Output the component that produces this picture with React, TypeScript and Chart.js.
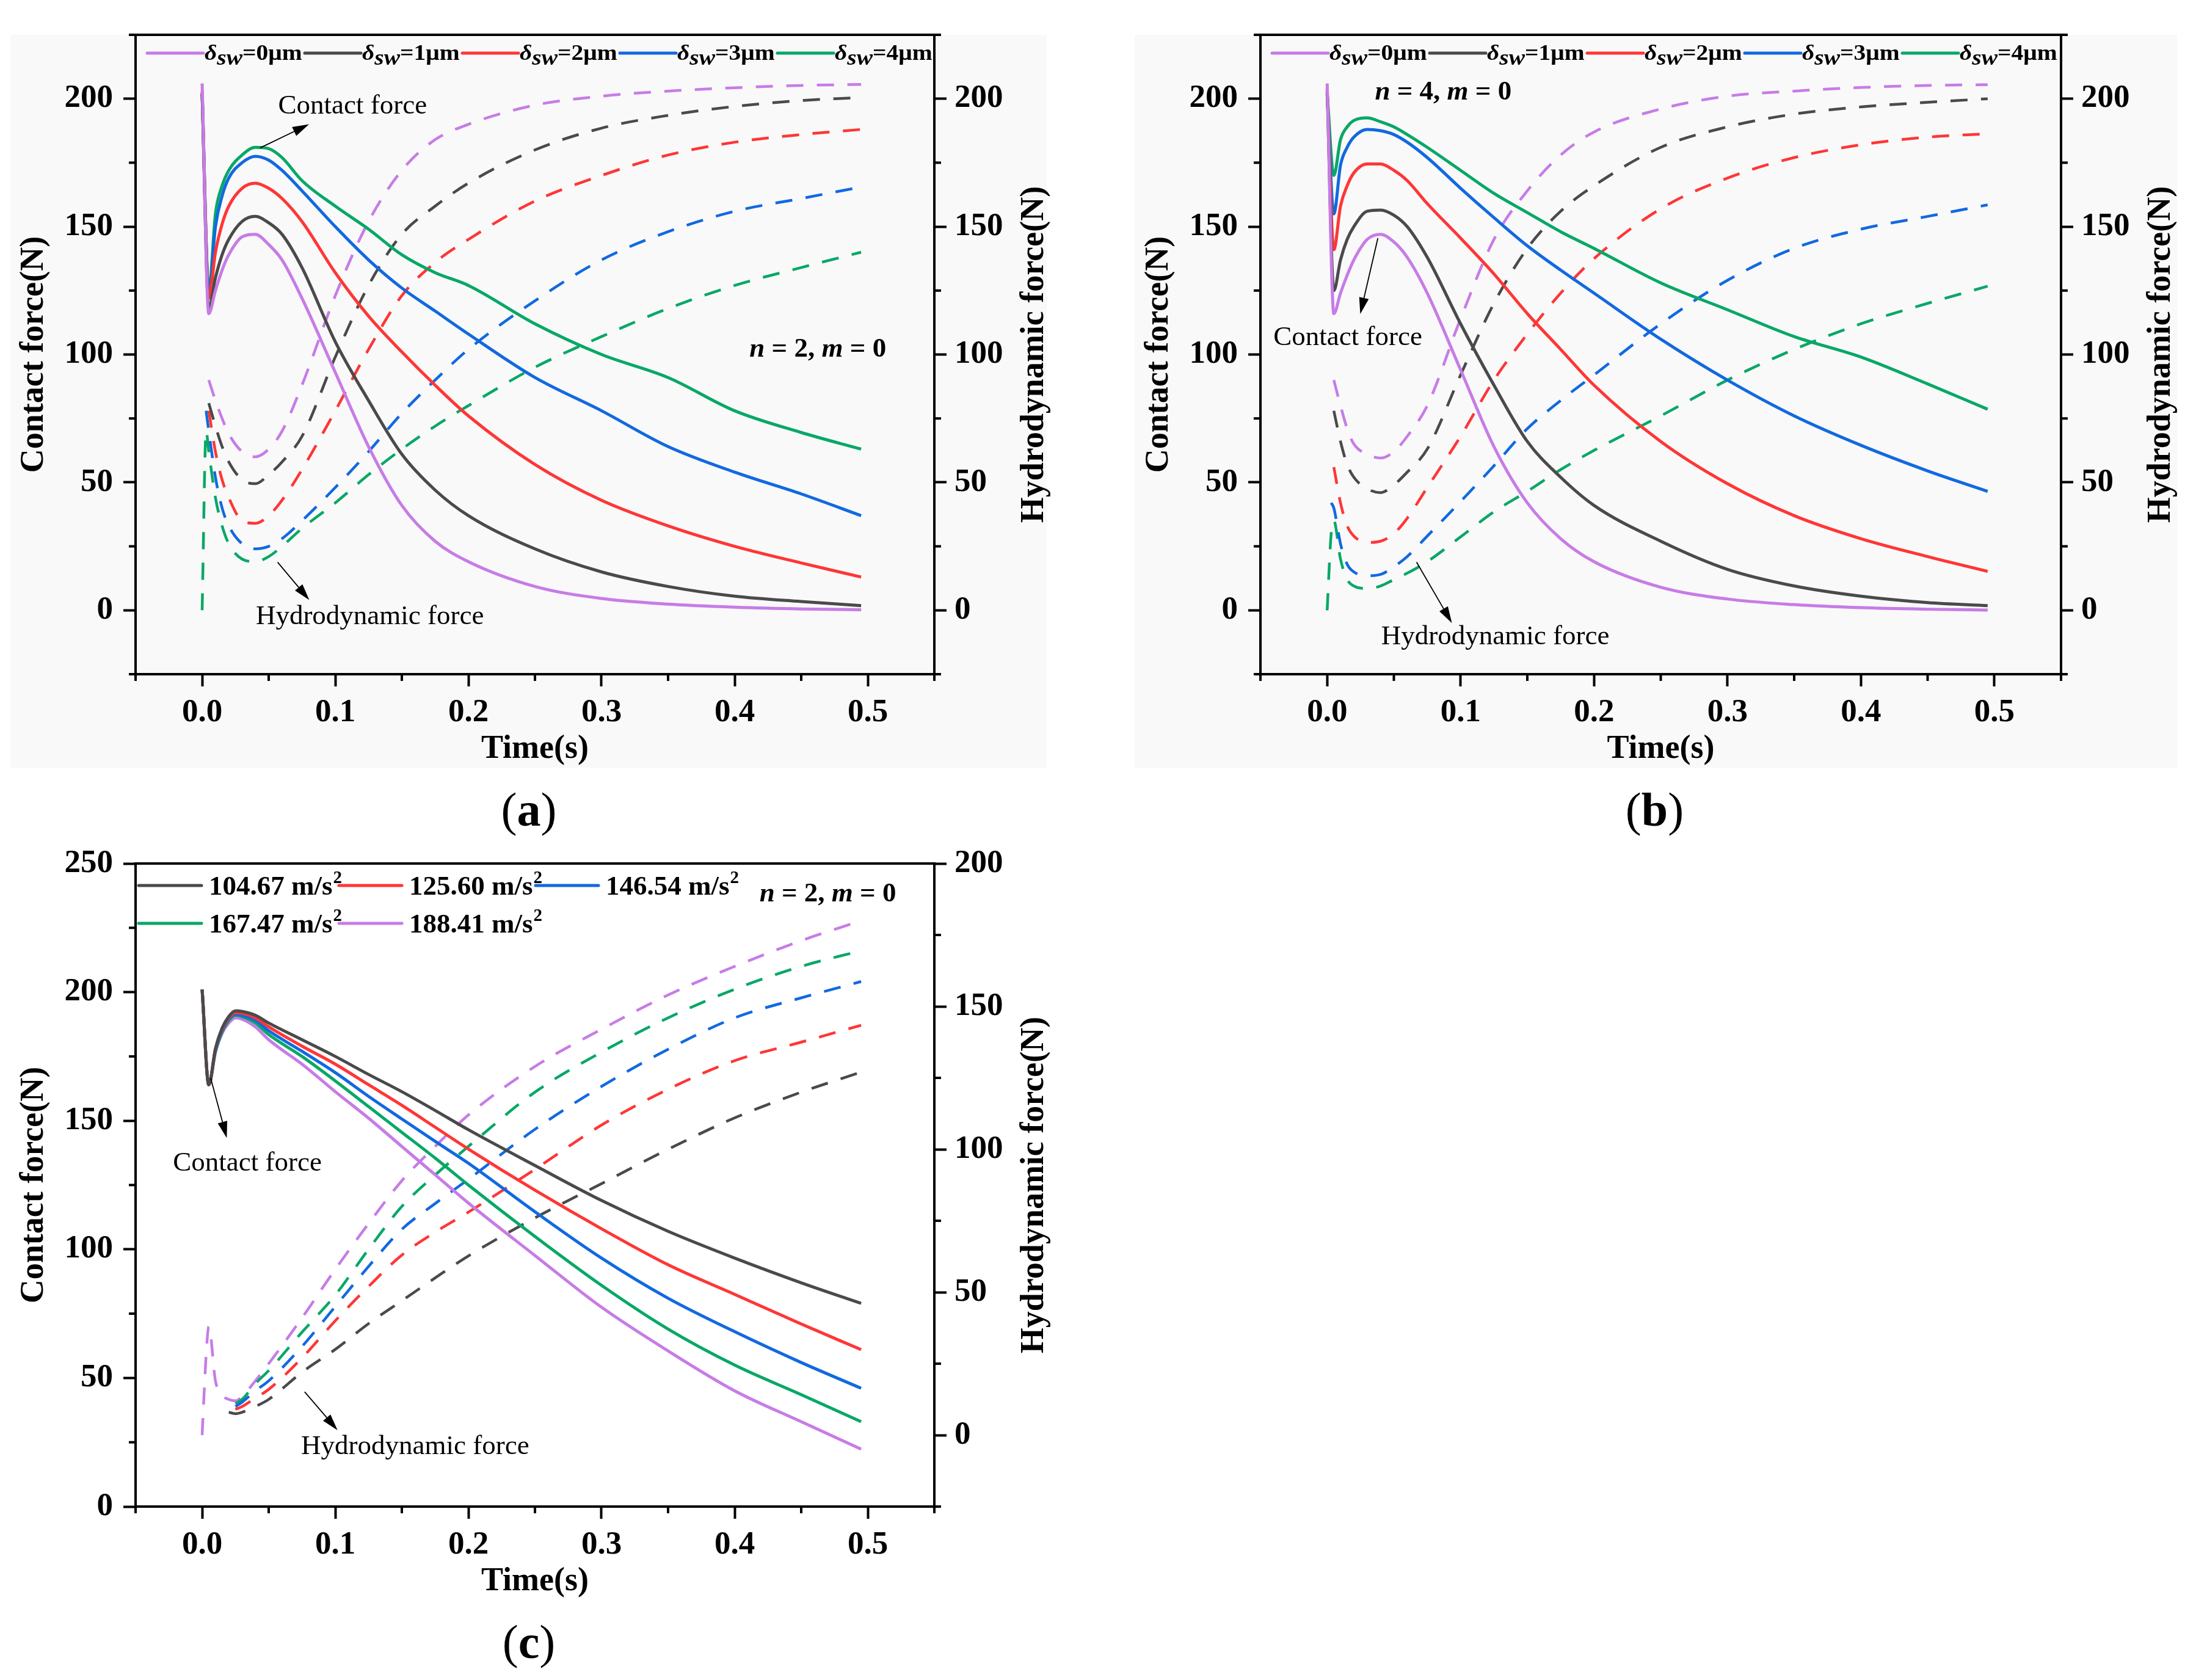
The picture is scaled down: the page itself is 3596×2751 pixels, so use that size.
import React, { useEffect, useRef } from 'react';
import { Chart, registerables } from 'chart.js';

Chart.register(...registerables);

const SERIF = '"Liberation Serif", "Times New Roman", Times, serif';

// ---------------- data ----------------
const TIME_AB = [0, 0.003, 0.005, 0.01, 0.015, 0.02, 0.03, 0.04, 0.05, 0.06, 0.075, 0.1, 0.125, 0.15, 0.175, 0.2, 0.25, 0.3, 0.35, 0.4, 0.45, 0.495];

// panel (a): n = 2, m = 0 ; series order δsw = 0,1,2,3,4 µm
const A_CONTACT_0 = [206, null, 116, 125, 133, 139, 146, 147, 143, 137, 122, 93, 64, 41, 27, 19, 9.3, 4.6, 2.4, 1.2, 0.5, 0.2];
const A_CONTACT_1 = [202, null, 118, 130, 139, 145, 152, 154, 151.5, 147, 134, 105, 82, 61, 47, 37, 24, 15, 9.3, 5.5, 3.4, 1.8];
const A_CONTACT_2 = [203, null, 122, 140, 151, 158, 165, 167, 165, 161, 152, 132, 115, 101, 88, 76, 57, 43, 33, 25, 18.5, 13];
const A_CONTACT_3 = [202, null, 124, 150, 162, 169, 175, 177.5, 176, 172, 164, 150, 137, 126, 117, 108, 91, 78, 64, 54, 45.5, 37];
const A_CONTACT_4 = [202, null, 125, 155, 166, 172, 178, 181, 180.5, 177, 168, 158, 149, 139, 132, 127, 112, 100, 91, 78, 69.5, 63];
const A_HYDRO_0 = [null, null, 90, 82, 75, 69, 62, 60, 63, 70, 88, 123, 152, 172, 184, 190, 197.5, 201, 203, 204.3, 205.2, 205.6];
const A_HYDRO_1 = [null, null, 81, 72, 64, 58, 51, 49.5, 53, 58, 68, 99, 127, 147, 158, 167, 180, 188.5, 193.5, 197, 199.3, 200.5];
const A_HYDRO_2 = [null, null, 78, 62, 51, 44, 35, 34, 37, 43, 55, 78, 102, 123, 136, 145, 160, 170, 178, 183, 186, 188];
const A_HYDRO_3 = [null, 78, 70, 52, 40, 33, 26, 24, 25, 28, 35, 48, 62, 77, 90, 102, 121, 137, 148, 156, 161, 165.5];
const A_HYDRO_4 = [0, 70, 62, 44, 33, 26, 20, 19, 21, 25, 32, 42, 53, 63, 72, 80, 95, 107, 118, 127, 134, 140];

// panel (b): n = 4, m = 0
const B_CONTACT_0 = [206, null, 116, 124, 131, 137, 145, 147, 144, 138, 124, 94, 64, 42, 28, 19, 9, 4.4, 2.2, 1, 0.4, 0.1];
const B_CONTACT_1 = [203, null, 125, 137, 145, 150, 156, 156.5, 154.5, 150, 138, 112, 88, 66, 52, 41, 27, 16, 9.5, 5.5, 3, 1.8];
const B_CONTACT_2 = [204, null, 141, 158, 166, 171, 174.5, 174.5, 172, 168, 159, 145.5, 131.5, 116, 102, 88, 66, 49.5, 37, 28, 21, 15.2];
const B_CONTACT_3 = [202, null, 155, 174, 181, 185, 188, 187.5, 186, 183, 177, 165, 153.5, 142.5, 133, 124, 106, 90, 76, 64.5, 54.5, 46.5];
const B_CONTACT_4 = [202, null, 170, 184, 189, 191.5, 192.5, 191, 189, 186, 181, 172, 163, 155.5, 148, 141.5, 128, 117.5, 107, 99, 88.5, 78.6];
const B_HYDRO_0 = [null, null, 90, 80, 71, 65, 61, 59.5, 62, 68, 80, 114, 145, 164, 178, 187, 196, 201, 203, 204.4, 205.2, 205.5];
const B_HYDRO_1 = [null, null, 78, 66, 57, 52, 47.5, 46, 49, 54, 63, 92, 120, 141.5, 156, 166, 181, 189, 194, 196.8, 198.6, 200];
const B_HYDRO_2 = [null, null, 56, 42, 33, 29, 26.5, 27, 30, 36, 48, 68, 90, 108, 124, 137.5, 157, 169, 177, 182, 185, 186.3];
const B_HYDRO_3 = [null, 42, 40, 26, 18, 15, 13.5, 14, 17, 21, 29, 42.5, 56.5, 71, 82, 92, 112, 129, 141.5, 149, 154, 158.5];
const B_HYDRO_4 = [0, 30, 35, 20, 12, 9.5, 8.5, 9.5, 12, 14.5, 19, 28.7, 38.5, 46.5, 55, 62.5, 76, 90, 102, 112, 120, 126.7];

// panel (c): n = 2, m = 0 ; series order 104.67, 125.60, 146.54, 167.47, 188.41 m/s²
const TIME_C = [0, 0.003, 0.005, 0.01, 0.015, 0.02, 0.025, 0.03, 0.04, 0.05, 0.075, 0.1, 0.125, 0.15, 0.175, 0.2, 0.25, 0.3, 0.35, 0.4, 0.45, 0.495];
const C_CONTACT_0 = [201, null, 164, 178, 186, 190.5, 192.7, 192.5, 191, 188, 181.5, 175, 168, 161.3, 154, 146.5, 132.6, 119, 107, 96.6, 87, 79];
const C_CONTACT_1 = [201, null, 164, 178, 185.5, 190, 192, 191.8, 190, 186.5, 179, 172, 164, 156, 147.5, 139, 123, 108, 94, 82.5, 71, 61];
const C_CONTACT_2 = [201, null, 164, 177.5, 185, 189.5, 191.4, 191, 189, 185, 177, 168.7, 159.5, 150.7, 142, 133.5, 114.6, 96.6, 81, 68, 56, 46];
const C_CONTACT_3 = [201, null, 164, 177, 184.5, 189, 191, 190.5, 188, 183.5, 175, 165.5, 155.5, 145.5, 135.5, 125, 105, 86, 69, 55, 43.5, 33];
const C_CONTACT_4 = [201, null, 164, 176.5, 184, 188, 190, 189.5, 186.5, 181.5, 172, 161.3, 151, 140, 129, 118, 97.6, 77.5, 60.5, 45, 33, 22.3];
const C_HYDRO_0 = [null, null, null, null, null, 8, 7.5, 8, 10, 12.5, 22, 30, 39, 47, 55, 62.7, 76, 88, 100, 111, 120, 127];
const C_HYDRO_1 = [null, null, null, null, null, null, 9, 10, 13, 16, 27, 40, 52, 63, 71, 78, 93, 108.5, 121, 131, 137.5, 143.4];
const C_HYDRO_2 = [null, null, null, null, null, null, 10, 11.5, 15.5, 19, 31, 45, 59, 72, 81, 89.5, 107, 122, 135, 146, 153, 158.7];
const C_HYDRO_3 = [null, null, null, null, null, null, 11, 12.5, 18, 22.6, 36, 49, 65, 80, 91, 101, 120, 134, 146, 156, 164, 169.5];
const C_HYDRO_4 = [0, 28, 38, 19, 14, 12.5, 12, 13.5, 19, 25, 41, 58, 74, 89, 101, 112, 129, 142, 154, 164, 173, 180];

const DELTA_LABELS = ['0', '1', '2', '3', '4'];
const ACCEL_LABELS = ['104.67', '125.60', '146.54', '167.47', '188.41'];

const X_TICKS = [0, 0.1, 0.2, 0.3, 0.4, 0.5];
const X_MINOR = [-0.05, 0.05, 0.15, 0.25, 0.35, 0.45, 0.55];
const Y_TICKS_AB = [0, 50, 100, 150, 200];
const Y_MINOR_AB = [-25, 25, 75, 125, 175, 225];
const Y_TICKS_C_LEFT = [0, 50, 100, 150, 200, 250];
const Y_MINOR_C_LEFT = [25, 75, 125, 175, 225];
const Y_TICKS_C_RIGHT = [0, 50, 100, 150, 200];
const Y_MINOR_C_RIGHT = [-25, 25, 75, 125, 175];

const PURPLE = '#c77ce6';
const DARK = '#4a4a4a';
const RED = '#ff3636';
const BLUE = '#1169e0';
const GREEN = '#08a866';
const COLORS_AB = [PURPLE, DARK, RED, BLUE, GREEN];
const COLORS_C = [DARK, RED, BLUE, GREEN, PURPLE];

// ---------------- panel specs ----------------
type Note = { text: string; t: number; v: number; axis: 'y' | 'y2'; nm?: [string, string] };
type Arrow = { t1: number; v1: number; t2: number; v2: number; axis: 'y' | 'y2' };
interface Panel {
  key: string;
  left: number; top: number; width: number; height: number;
  padTop: number; padBottom: number; leftW: number; rightW: number; xH: number;
  yMin: number; yMax: number; y2Min: number; y2Max: number;
  yTicks: number[]; yMinor: number[]; y2Ticks: number[]; y2Minor: number[];
  time: number[]; contact: (number | null)[][]; hydro: (number | null)[][]; colors: string[];
  legend: 'delta' | 'accel'; labels: string[];
  bg: [number, number, number, number] | null;
  caption: string;
  notes: Note[]; arrows: Arrow[];
}

const PANELS: Panel[] = [
  {
    key: 'a', left: 0, top: 0, width: 1790, height: 1400,
    padTop: 57, padBottom: 96, leftW: 222, rightW: 260, xH: 200,
    yMin: -25, yMax: 225, y2Min: -25, y2Max: 225,
    yTicks: Y_TICKS_AB, yMinor: Y_MINOR_AB, y2Ticks: Y_TICKS_AB, y2Minor: Y_MINOR_AB,
    time: TIME_AB,
    contact: [A_CONTACT_0, A_CONTACT_1, A_CONTACT_2, A_CONTACT_3, A_CONTACT_4],
    hydro: [A_HYDRO_0, A_HYDRO_1, A_HYDRO_2, A_HYDRO_3, A_HYDRO_4],
    colors: COLORS_AB, legend: 'delta', labels: DELTA_LABELS,
    bg: [17, 57, 1697, 1200], caption: 'a',
    notes: [
      { text: 'Contact force', t: 0.113, v: 197, axis: 'y' },
      { text: 'Hydrodynamic force', t: 0.126, v: -2.6, axis: 'y' },
      { text: '', t: 0.4625, v: 102, axis: 'y', nm: ['2', '0'] },
    ],
    arrows: [
      { t1: 0.0436, v1: 180.8, t2: 0.0803, v2: 190, axis: 'y' },
      { t1: 0.0567, v1: 18.8, t2: 0.0805, v2: 4, axis: 'y' },
    ],
  },
  {
    key: 'b', left: 1800, top: 0, width: 1796, height: 1400,
    padTop: 57, padBottom: 96, leftW: 264, rightW: 221, xH: 200,
    yMin: -25, yMax: 225, y2Min: -25, y2Max: 225,
    yTicks: Y_TICKS_AB, yMinor: Y_MINOR_AB, y2Ticks: Y_TICKS_AB, y2Minor: Y_MINOR_AB,
    time: TIME_AB,
    contact: [B_CONTACT_0, B_CONTACT_1, B_CONTACT_2, B_CONTACT_3, B_CONTACT_4],
    hydro: [B_HYDRO_0, B_HYDRO_1, B_HYDRO_2, B_HYDRO_3, B_HYDRO_4],
    colors: COLORS_AB, legend: 'delta', labels: DELTA_LABELS,
    bg: [58, 57, 1707, 1200], caption: 'b',
    notes: [
      { text: '', t: 0.087, v: 202.4, axis: 'y', nm: ['4', '0'] },
      { text: 'Contact force', t: 0.0155, v: 106.5, axis: 'y' },
      { text: 'Hydrodynamic force', t: 0.126, v: -10.5, axis: 'y' },
    ],
    arrows: [
      { t1: 0.038, v1: 145.5, t2: 0.0248, v2: 115.8, axis: 'y' },
      { t1: 0.067, v1: 18.8, t2: 0.0935, v2: -5, axis: 'y' },
    ],
  },
  {
    key: 'c', left: 0, top: 1360, width: 1790, height: 1391,
    padTop: 54, padBottom: 84, leftW: 222, rightW: 260, xH: 200,
    yMin: 0, yMax: 250, y2Min: -25, y2Max: 200,
    yTicks: Y_TICKS_C_LEFT, yMinor: Y_MINOR_C_LEFT, y2Ticks: Y_TICKS_C_RIGHT, y2Minor: Y_MINOR_C_RIGHT,
    time: TIME_C,
    contact: [C_CONTACT_0, C_CONTACT_1, C_CONTACT_2, C_CONTACT_3, C_CONTACT_4],
    hydro: [C_HYDRO_0, C_HYDRO_1, C_HYDRO_2, C_HYDRO_3, C_HYDRO_4],
    colors: COLORS_C, legend: 'accel', labels: ACCEL_LABELS,
    bg: null, caption: 'c',
    notes: [
      { text: '', t: 0.47, v: 238, axis: 'y', nm: ['2', '0'] },
      { text: 'Contact force', t: 0.034, v: 133.5, axis: 'y' },
      { text: 'Hydrodynamic force', t: 0.16, v: 23.3, axis: 'y' },
    ],
    arrows: [
      { t1: 0.0064, v1: 166.6, t2: 0.0185, v2: 143.3, axis: 'y' },
      { t1: 0.077, v1: 44.6, t2: 0.1017, v2: 29.7, axis: 'y' },
    ],
  },
];

// ---------------- drawing helpers ----------------
function drawArrow(ctx: CanvasRenderingContext2D, x1: number, y1: number, x2: number, y2: number) {
  const a = Math.atan2(y2 - y1, x2 - x1);
  const L = 27, W = 8;
  const bx = x2 - L * Math.cos(a), by = y2 - L * Math.sin(a);
  ctx.strokeStyle = '#000';
  ctx.fillStyle = '#000';
  ctx.lineWidth = 1.8;
  ctx.lineCap = 'butt';
  ctx.beginPath();
  ctx.moveTo(x1, y1);
  ctx.lineTo(bx, by);
  ctx.stroke();
  ctx.beginPath();
  ctx.moveTo(x2, y2);
  ctx.lineTo(bx + W * Math.sin(a), by - W * Math.cos(a));
  ctx.lineTo(bx - W * Math.sin(a), by + W * Math.cos(a));
  ctx.closePath();
  ctx.fill();
}

function drawNM(ctx: CanvasRenderingContext2D, cx: number, cy: number, n: string, m: string) {
  const segs: [string, boolean][] = [['n', true], [' = ' + n + ', ', false], ['m', true], [' = ' + m, false]];
  const fontFor = (it: boolean) => `${it ? 'italic ' : ''}bold 45px ${SERIF}`;
  let total = 0;
  for (const [s, it] of segs) { ctx.font = fontFor(it); total += ctx.measureText(s).width; }
  let x = cx - total / 2;
  ctx.textAlign = 'left';
  ctx.textBaseline = 'middle';
  ctx.fillStyle = '#000';
  for (const [s, it] of segs) {
    ctx.font = fontFor(it);
    ctx.fillText(s, x, cy);
    x += ctx.measureText(s).width;
  }
}

function drawCaption(ctx: CanvasRenderingContext2D, cx: number, cy: number, letter: string) {
  const reg = `78px ${SERIF}`;
  const bold = `bold 78px ${SERIF}`;
  ctx.font = reg;
  const wp = ctx.measureText('(').width;
  const wq = ctx.measureText(')').width;
  ctx.font = bold;
  const wl = ctx.measureText(letter).width;
  let x = cx - (wp + wl + wq) / 2;
  ctx.textAlign = 'left';
  ctx.textBaseline = 'middle';
  ctx.fillStyle = '#000';
  ctx.font = reg; ctx.fillText('(', x, cy); x += wp;
  ctx.font = bold; ctx.fillText(letter, x, cy); x += wl;
  ctx.font = reg; ctx.fillText(')', x, cy);
}

function decorPlugin(p: Panel) {
  return {
    id: 'decor_' + p.key,
    beforeDraw(chart: any) {
      if (!p.bg) return;
      const ctx = chart.ctx as CanvasRenderingContext2D;
      ctx.save();
      ctx.fillStyle = '#f9f9f9';
      ctx.fillRect(p.bg[0], p.bg[1], p.bg[2], p.bg[3]);
      ctx.restore();
    },
    afterDraw(chart: any) {
      const ctx = chart.ctx as CanvasRenderingContext2D;
      const ca = chart.chartArea;
      const xs = chart.scales.x, ys = chart.scales.y, y2s = chart.scales.y2;
      ctx.save();
      ctx.strokeStyle = '#000';
      ctx.lineWidth = 4;
      ctx.lineCap = 'butt';
      // top frame line
      ctx.beginPath();
      ctx.moveTo(ca.left - 2, ca.top);
      ctx.lineTo(ca.right + 2, ca.top);
      ctx.stroke();
      // minor ticks
      const mt = 11;
      for (const v of X_MINOR) {
        const px = xs.getPixelForValue(v);
        ctx.beginPath(); ctx.moveTo(px, ca.bottom); ctx.lineTo(px, ca.bottom + mt); ctx.stroke();
      }
      for (const v of p.yMinor) {
        const py = ys.getPixelForValue(v);
        ctx.beginPath(); ctx.moveTo(ca.left, py); ctx.lineTo(ca.left - mt, py); ctx.stroke();
      }
      for (const v of p.y2Minor) {
        const py = y2s.getPixelForValue(v);
        ctx.beginPath(); ctx.moveTo(ca.right, py); ctx.lineTo(ca.right + mt, py); ctx.stroke();
      }

      // axis titles
      ctx.fillStyle = '#000';
      ctx.font = `bold 54px ${SERIF}`;
      ctx.textAlign = 'center';
      ctx.textBaseline = 'middle';
      const cyMid = (ca.top + ca.bottom) / 2;
      ctx.save();
      ctx.translate(ca.left - 166, cyMid);
      ctx.rotate(-Math.PI / 2);
      ctx.fillText('Contact force(N)', 0, 0);
      ctx.restore();
      ctx.save();
      ctx.translate(ca.right + 164, cyMid);
      ctx.rotate(-Math.PI / 2);
      ctx.fillText('Hydrodynamic force(N)', 0, 0);
      ctx.restore();
      const cxMid = (ca.left + ca.right) / 2;
      ctx.fillText('Time(s)', cxMid, ca.bottom + 123);

      // caption
      drawCaption(ctx, cxMid - 10, ca.bottom + 228, p.caption);

      // legend
      if (p.legend === 'delta') {
        const x0 = ca.left + 19, y = ca.top + 30, dx = 258, len = 92;
        p.labels.forEach((lab, i) => {
          const ls = x0 + i * dx;
          ctx.strokeStyle = p.colors[i];
          ctx.lineWidth = 5;
          ctx.lineCap = 'round';
          ctx.beginPath(); ctx.moveTo(ls, y); ctx.lineTo(ls + len, y); ctx.stroke();
          ctx.save();
          ctx.translate(ls + len + 2, y + 11);
          ctx.scale(1.13, 1);
          ctx.fillStyle = '#000';
          ctx.textAlign = 'left';
          ctx.textBaseline = 'alphabetic';
          let cx = 0;
          ctx.font = `italic bold 35px ${SERIF}`;
          ctx.fillText('δ', cx, 0);
          cx += ctx.measureText('δ').width;
          ctx.fillText('sw', cx, 8);
          cx += ctx.measureText('sw').width;
          ctx.font = `bold 35px ${SERIF}`;
          ctx.fillText('=' + lab + 'μm', cx, 0);
          ctx.restore();
        });
      } else {
        const rows = [[0, 1, 2], [3, 4]];
        const starts = [5, 333, 655];
        const rowY = [36, 98];
        const len = 103;
        rows.forEach((row, r) => {
          row.forEach((idx, k) => {
            const ls = ca.left + starts[k];
            const y = ca.top + rowY[r];
            ctx.strokeStyle = p.colors[idx];
            ctx.lineWidth = 5;
            ctx.lineCap = 'round';
            ctx.beginPath(); ctx.moveTo(ls, y); ctx.lineTo(ls + len, y); ctx.stroke();
            ctx.fillStyle = '#000';
            ctx.textAlign = 'left';
            ctx.textBaseline = 'alphabetic';
            ctx.font = `bold 45px ${SERIF}`;
            const main = p.labels[idx] + ' m/s';
            const tx = ls + len + 12;
            ctx.fillText(main, tx, y + 15);
            const w = ctx.measureText(main).width;
            ctx.font = `bold 29px ${SERIF}`;
            ctx.fillText('2', tx + w + 1, y - 4);
          });
        });
      }

      // annotations
      for (const n of p.notes) {
        const sc = n.axis === 'y' ? ys : y2s;
        const px = xs.getPixelForValue(n.t), py = sc.getPixelForValue(n.v);
        if (n.nm) {
          drawNM(ctx, px, py, n.nm[0], n.nm[1]);
        } else {
          ctx.font = `45px ${SERIF}`;
          ctx.fillStyle = '#000';
          ctx.textAlign = 'center';
          ctx.textBaseline = 'middle';
          ctx.fillText(n.text, px, py);
        }
      }
      for (const a of p.arrows) {
        const sc = a.axis === 'y' ? ys : y2s;
        drawArrow(ctx, xs.getPixelForValue(a.t1), sc.getPixelForValue(a.v1), xs.getPixelForValue(a.t2), sc.getPixelForValue(a.v2));
      }
      ctx.restore();
    },
  };
}

function toPoints(time: number[], vals: (number | null)[]) {
  const out: { x: number; y: number }[] = [];
  time.forEach((t, i) => {
    const v = vals[i];
    if (v !== null && v !== undefined) out.push({ x: t, y: v });
  });
  return out;
}

function buildConfig(p: Panel): any {
  const tickFont = { family: SERIF, size: 53, weight: 'bold' as const };
  const datasets: any[] = [];
  p.contact.forEach((vals, i) => {
    datasets.push({
      data: toPoints(p.time, vals), borderColor: p.colors[i], borderWidth: 5,
      yAxisID: 'y', pointRadius: 0, fill: false, cubicInterpolationMode: 'monotone',
    });
  });
  p.hydro.forEach((vals, i) => {
    datasets.push({
      data: toPoints(p.time, vals), borderColor: p.colors[i], borderWidth: 4.5,
      borderDash: [28, 22], yAxisID: 'y2', pointRadius: 0, fill: false, cubicInterpolationMode: 'monotone',
    });
  });
  const grid = { drawOnChartArea: false, drawTicks: true, tickLength: 20, tickWidth: 4, tickColor: '#000' };
  const border = { display: true, color: '#000', width: 4 };
  return {
    type: 'line',
    data: { datasets },
    options: {
      animation: false,
      responsive: false,
      devicePixelRatio: 1,
      layout: { padding: { left: 0, right: 0, top: p.padTop, bottom: p.padBottom } },
      plugins: { legend: { display: false }, tooltip: { enabled: false }, title: { display: false } },
      scales: {
        x: {
          type: 'linear', min: -0.05, max: 0.55,
          afterBuildTicks: (s: any) => { s.ticks = X_TICKS.map((v) => ({ value: v })); },
          afterFit: (s: any) => { s.height = p.xH; },
          ticks: { color: '#000', font: tickFont, padding: 12, autoSkip: false, maxRotation: 0, callback: (v: any) => Number(v).toFixed(1) },
          grid, border,
        },
        y: {
          type: 'linear', position: 'left', min: p.yMin, max: p.yMax,
          afterBuildTicks: (s: any) => { s.ticks = p.yTicks.map((v) => ({ value: v })); },
          afterFit: (s: any) => { s.width = p.leftW; },
          ticks: { color: '#000', font: tickFont, padding: 17, callback: (v: any) => String(v) },
          grid, border,
        },
        y2: {
          type: 'linear', position: 'right', min: p.y2Min, max: p.y2Max,
          afterBuildTicks: (s: any) => { s.ticks = p.y2Ticks.map((v) => ({ value: v })); },
          afterFit: (s: any) => { s.width = p.rightW; },
          ticks: { color: '#000', font: tickFont, padding: 13, callback: (v: any) => String(v) },
          grid, border,
        },
      },
    },
    plugins: [decorPlugin(p)],
  };
}

function PanelChart({ p }: { p: Panel }) {
  const ref = useRef<HTMLCanvasElement>(null);
  useEffect(() => {
    if (!ref.current) return;
    const chart = new Chart(ref.current, buildConfig(p));
    return () => chart.destroy();
  }, [p]);
  return (
    <canvas
      ref={ref}
      width={p.width}
      height={p.height}
      style={{ position: 'absolute', left: p.left, top: p.top, width: p.width, height: p.height }}
    />
  );
}

export default function App() {
  return (
    <div style={{ position: 'absolute', left: 0, top: 0, width: 3596, height: 2751, background: '#ffffff', overflow: 'hidden' }}>
      {PANELS.map((p) => (
        <PanelChart key={p.key} p={p} />
      ))}
    </div>
  );
}
